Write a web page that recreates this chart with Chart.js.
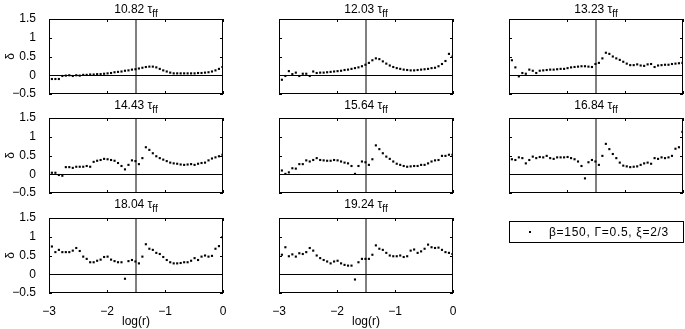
<!DOCTYPE html>
<html>
<head>
<meta charset="utf-8">
<script src="https://cdn.jsdelivr.net/npm/chart.js@4.4.1/dist/chart.umd.min.js"></script>
<style>
  body { margin: 0; background: #fff; font-family: "Liberation Sans", Arial, sans-serif; }
  #fig { position: relative; width: 685px; height: 329px; overflow: hidden; background: #fff; }
  #fig canvas { position: absolute; }
  .ttl { position: absolute; width: 174px; text-align: center; font-size: 12px; line-height: 14px; white-space: nowrap; z-index: 2; }
  .ttl sub { font-size: 10px; vertical-align: -4px; line-height: 0; }
  #legend { position: absolute; left: 509px; top: 221px; width: 173px; height: 20px; border: 1px solid #000; font-size: 12px; line-height: 20px; z-index: 2; }
  #legend .dot { position: absolute; left: 19px; top: 9px; width: 2px; height: 2px; background: #000; }
  #legend .txt { position: absolute; left: 39px; top: 0; letter-spacing: 0.7px; white-space: nowrap; }
</style>
</head>
<body>
<div id="fig">
  <div id="legend"><span class="dot"></span><span class="txt"></span></div>
</div>
<script>
// log(r) sample positions, shared by every panel
const logR = [
  -2.95, -2.89, -2.83, -2.77, -2.71, -2.65, -2.59, -2.53, -2.47, -2.41,
  -2.35, -2.29, -2.23, -2.17, -2.11, -2.05, -1.99, -1.93, -1.87, -1.81,
  -1.75, -1.69, -1.63, -1.57, -1.51, -1.45, -1.39, -1.33, -1.27, -1.21,
  -1.15, -1.09, -1.03, -0.97, -0.91, -0.85, -0.79, -0.73, -0.67, -0.61,
  -0.55, -0.49, -0.43, -0.37, -0.31, -0.25, -0.19, -0.13, -0.07, -0.01
];

const times = ["10.82", "12.03", "13.23", "14.43", "15.64", "16.84", "18.04", "19.24"];

const delta1082 = [-0.1, -0.1, -0.1, -0.02, -0.01, 0, -0.02, 0, -0.01, 0.01,
  0.01, 0.02, 0.02, 0.03, 0.03, 0.04, 0.05, 0.06, 0.08, 0.09,
  0.1, 0.12, 0.13, 0.15, 0.16, 0.18, 0.2, 0.22, 0.23, 0.23,
  0.21, 0.17, 0.13, 0.1, 0.07, 0.05, 0.05, 0.05, 0.05, 0.05,
  0.05, 0.05, 0.06, 0.06, 0.07, 0.08, 0.1, 0.13, 0.17, 0.22];
const delta1203 = [-0.12, -0.02, 0.11, 0.03, 0.07, -0.02, 0.04, 0.04, -0.02, 0.1,
  0.06, 0.07, 0.07, 0.08, 0.09, 0.1, 0.11, 0.12, 0.14, 0.15,
  0.17, 0.19, 0.21, 0.24, 0.28, 0.33, 0.4, 0.45, 0.43, 0.37,
  0.31, 0.26, 0.22, 0.19, 0.17, 0.15, 0.14, 0.13, 0.13, 0.14,
  0.15, 0.16, 0.17, 0.19, 0.2, 0.24, 0.3, 0.38, 0.57, 0.5];
const delta1323 = [0.4, 0.21, -0.03, 0.06, 0.04, 0.15, 0.12, 0.06, 0.12, 0.13,
  0.14, 0.15, 0.15, 0.16, 0.17, 0.17, 0.19, 0.21, 0.22, 0.23,
  0.24, 0.24, 0.23, 0.22, 0.3, 0.33, 0.45, 0.6, 0.57, 0.5,
  0.45, 0.41, 0.36, 0.31, 0.27, 0.27, 0.29, 0.26, 0.25, 0.29,
  0.3, 0.22, 0.26, 0.27, 0.28, 0.28, 0.3, 0.31, 0.32, 0.33];
const delta1443 = [0.04, 0.04, -0.02, -0.04, 0.19, 0.19, 0.17, 0.2, 0.2, 0.2,
  0.22, 0.2, 0.33, 0.36, 0.38, 0.41, 0.4, 0.38, 0.36, 0.3,
  0.22, 0.13, 0.25, 0.37, 0.35, 0.27, 0.43, 0.72, 0.65, 0.56,
  0.48, 0.43, 0.39, 0.35, 0.31, 0.29, 0.28, 0.26, 0.25, 0.26,
  0.27, 0.25, 0.28, 0.3, 0.31, 0.37, 0.42, 0.45, 0.48, 0.52];
const delta1564 = [0.1, 0.01, 0.05, 0.16, 0.15, 0.27, 0.27, 0.37, 0.34, 0.38,
  0.43, 0.38, 0.37, 0.36, 0.36, 0.38, 0.37, 0.34, 0.31, 0.29,
  0.22, 0.01, 0.22, 0.34, 0.32, 0.25, 0.4, 0.77, 0.67, 0.56,
  0.47, 0.41, 0.34, 0.28, 0.25, 0.22, 0.2, 0.21, 0.22, 0.22,
  0.25, 0.25, 0.29, 0.34, 0.37, 0.38, 0.49, 0.49, 0.52, 0.52];
const delta1684 = [0.4, 0.38, 0.45, 0.43, 0.29, 0.38, 0.47, 0.43, 0.46, 0.45,
  0.49, 0.43, 0.41, 0.45, 0.45, 0.45, 0.46, 0.43, 0.4, 0.34,
  0.22, -0.11, 0.32, 0.38, 0.34, 0.25, 0.49, 0.81, 0.67, 0.54,
  0.43, 0.31, 0.23, 0.21, 0.19, 0.2, 0.21, 0.25, 0.29, 0.31,
  0.28, 0.43, 0.41, 0.45, 0.43, 0.45, 0.49, 0.68, 0.72, 1.13];
const delta1804 = [0.74, 0.59, 0.65, 0.59, 0.59, 0.59, 0.63, 0.7, 0.62, 0.47,
  0.41, 0.32, 0.32, 0.36, 0.39, 0.46, 0.47, 0.39, 0.35, 0.32,
  0.32, -0.12, 0.35, 0.38, 0.34, 0.29, 0.47, 0.8, 0.68, 0.65,
  0.57, 0.54, 0.46, 0.38, 0.32, 0.29, 0.29, 0.3, 0.32, 0.32,
  0.36, 0.43, 0.38, 0.47, 0.5, 0.47, 0.49, 0.68, 0.75, 0.99];
const delta1924 = [0.52, 0.72, 0.48, 0.53, 0.47, 0.56, 0.54, 0.59, 0.7, 0.63,
  0.5, 0.43, 0.38, 0.34, 0.29, 0.34, 0.36, 0.29, 0.25, 0.23,
  0.23, -0.14, 0.32, 0.41, 0.41, 0.41, 0.52, 0.77, 0.68, 0.65,
  0.57, 0.5, 0.48, 0.48, 0.5, 0.46, 0.48, 0.63, 0.66, 0.57,
  0.61, 0.68, 0.79, 0.72, 0.7, 0.71, 0.65, 0.59, 0.57, 0.54];

const series = [delta1082, delta1203, delta1323, delta1443, delta1564, delta1684, delta1804, delta1924];

const xTicks = [-3, -2, -1, 0];
const yTicks = [-0.5, 0, 0.5, 1, 1.5];
const rMark = -1.5; // vertical marker line
const zeroLevel = 0;
const legendLabel = "β=150, Γ=0.5, ξ=2/3";

Chart.defaults.font.family = '"Liberation Sans", Arial, sans-serif';
Chart.defaults.font.size = 12;
Chart.defaults.color = "#000";

// panel geometry (plot box top-left corners)
const cols = [49, 279, 509];
const rows = [19, 118, 218];
const titleTops = [2, 98, 197];
const AXW = 49, PADT = 8, PADR = 8, AXH = 40;
const PW = 174, PH = 75;

const fig = document.getElementById("fig");
document.querySelector("#legend .txt").textContent = legendLabel;

function fmt(v) {
  return String(v).replace("-", "\u2212");
}

// reference lines under the dots, kept pixel-crisp
const refLines = {
  id: "refLines",
  beforeDatasetsDraw(chart) {
    const { ctx, chartArea: a, scales } = chart;
    const py = Math.round(scales.y.getPixelForValue(zeroLevel)) + 0.5;
    const px = Math.round(scales.x.getPixelForValue(rMark));
    ctx.save();
    ctx.strokeStyle = "#808080";
    ctx.lineWidth = 2;
    ctx.beginPath();
    ctx.moveTo(px, a.top);
    ctx.lineTo(px, a.bottom);
    ctx.stroke();
    ctx.strokeStyle = "#000";
    ctx.lineWidth = 1;
    ctx.beginPath();
    ctx.moveTo(a.left, py);
    ctx.lineTo(a.right, py);
    ctx.stroke();
    ctx.restore();
  },
};

// box around plot + inward tick marks like matlab
const framePlugin = {
  id: "frame",
  afterDatasetsDraw(chart) {
    const { ctx, chartArea: a, scales } = chart;
    const x = scales.x, y = scales.y;
    ctx.save();
    ctx.strokeStyle = "#000";
    ctx.lineWidth = 1;
    ctx.beginPath();
    x.ticks.forEach((t) => {
      const px = Math.round(x.getPixelForValue(t.value)) + 0.5;
      ctx.moveTo(px, a.top);
      ctx.lineTo(px, a.top + 3);
      ctx.moveTo(px, a.bottom);
      ctx.lineTo(px, a.bottom - 3);
    });
    y.ticks.forEach((t) => {
      const py = Math.round(y.getPixelForValue(t.value)) + 0.5;
      ctx.moveTo(a.left, py);
      ctx.lineTo(a.left + 3, py);
      ctx.moveTo(a.right, py);
      ctx.lineTo(a.right - 3, py);
    });
    ctx.stroke();
    ctx.strokeRect(a.left + 0.5, a.top + 0.5, a.width - 1, a.height - 1);
    ctx.restore();
  },
};

function makePanel(canvas, vals, showY, showX) {
  const pts = vals.map((v, i) => ({ x: logR[i], y: v }));
  return new Chart(canvas.getContext("2d"), {
    type: "scatter",
    data: {
      datasets: [
        {
          data: pts,
          pointStyle: "rect",
          pointRadius: 1.5,
          pointBorderWidth: 0,
          backgroundColor: "#000",
          borderColor: "#000",
        },
      ],
    },
    options: {
      responsive: false,
      animation: false,
      events: [],
      layout: { padding: { top: PADT, right: PADR, left: 0, bottom: 0 } },
      plugins: { legend: { display: false }, tooltip: { enabled: false } },
      scales: {
        x: {
          type: "linear",
          min: -3,
          max: 0,
          afterBuildTicks: (s) => { s.ticks = xTicks.map((v) => ({ value: v })); },
          afterFit: (s) => { s.height = AXH; s.paddingLeft = 0; s.paddingRight = 0; },
          grid: { display: false },
          border: { display: false },
          ticks: { display: showX, padding: 3, callback: fmt },
          title: { display: showX, text: "log(r)", padding: { top: 0, bottom: 4 } },
        },
        y: {
          min: -0.5,
          max: 1.5,
          afterBuildTicks: (s) => { s.ticks = yTicks.map((v) => ({ value: v })); },
          afterFit: (s) => { s.width = AXW; s.paddingTop = 0; s.paddingBottom = 0; },
          grid: { display: false },
          border: { display: false },
          ticks: { display: showY, padding: 5, callback: fmt },
          title: { display: showY, text: "δ", padding: { top: 3, bottom: 0 } },
        },
      },
    },
    plugins: [refLines, framePlugin],
  });
}

series.forEach((vals, i) => {
  const col = i % 3;
  const row = Math.floor(i / 3);
  const left = cols[col];
  const top = rows[row];

  const cv = document.createElement("canvas");
  cv.width = AXW + PW + PADR;
  cv.height = PADT + PH + AXH;
  cv.style.left = left - AXW + "px";
  cv.style.top = top - PADT + "px";
  cv.style.width = cv.width + "px";
  cv.style.height = cv.height + "px";
  fig.appendChild(cv);

  const ttl = document.createElement("div");
  ttl.className = "ttl";
  ttl.style.left = left + "px";
  ttl.style.top = titleTops[row] + "px";
  ttl.innerHTML = times[i] + " τ<sub>ff</sub>";
  fig.appendChild(ttl);

  makePanel(cv, vals, col === 0, row === 2);
});
</script>
</body>
</html>
